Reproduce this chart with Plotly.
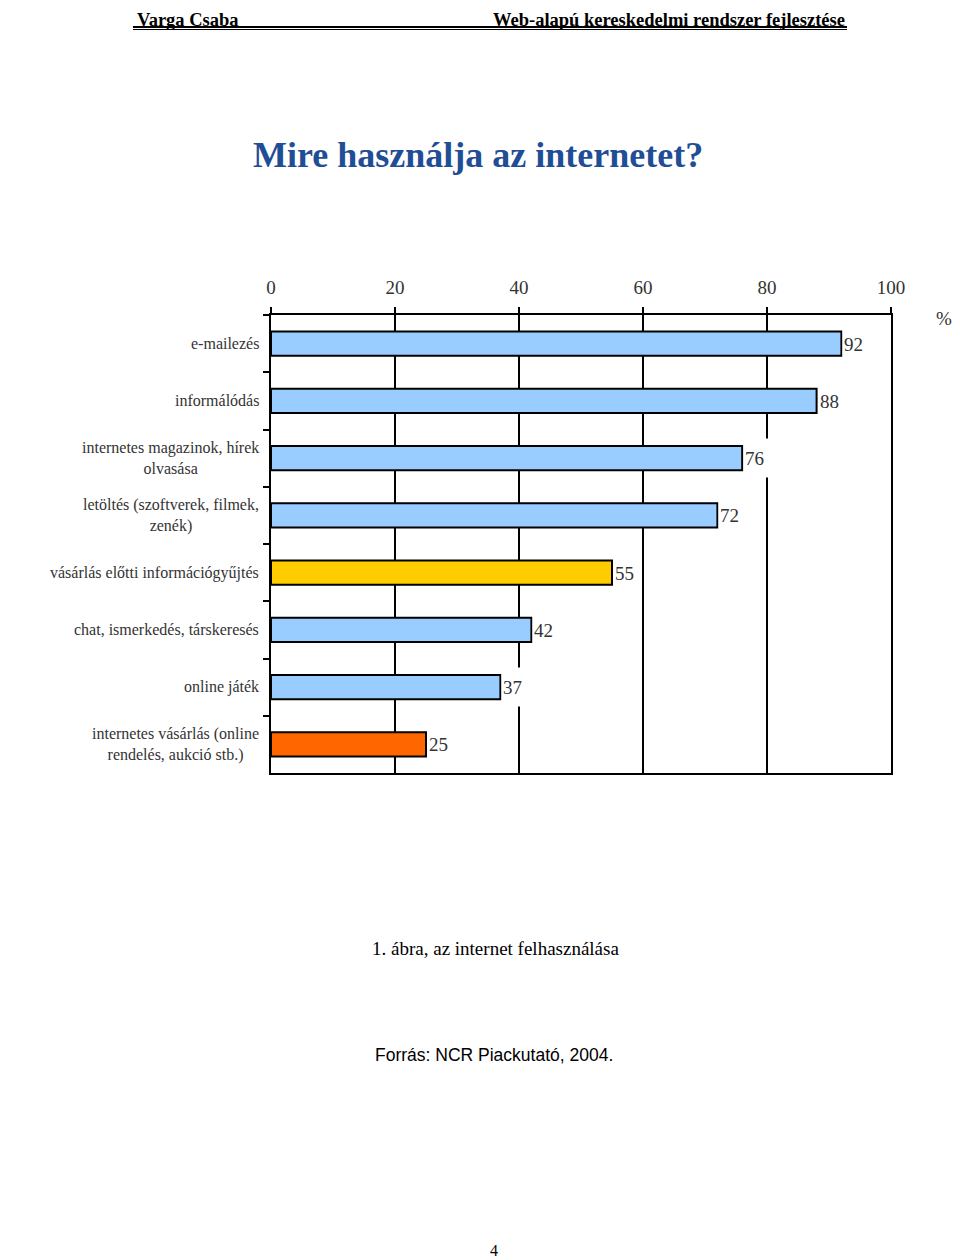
import plotly.graph_objects as go

# data
categories = [
    "e-mailezés",
    "informálódás",
    "internetes magazinok, hírek<br>olvasása",
    "letöltés (szoftverek, filmek,<br>zenék)",
    "vásárlás előtti információgyűjtés",
    "chat, ismerkedés, társkeresés",
    "online játék",
    "internetes vásárlás (online<br>rendelés, aukció stb.)",
]
values = [92, 88, 76, 72, 55, 42, 37, 25]
bar_colors = ["#99CCFF", "#99CCFF", "#99CCFF", "#99CCFF",
              "#FFCC00", "#99CCFF", "#99CCFF", "#FF6600"]
x_ticks = [0, 20, 40, 60, 80, 100]

serif = "Liberation Serif"
W, H = 960, 1260
# page body has an 8px margin, so the margins are taken 8px smaller
L, R, T, B = 263, 77, 307, 495
pw = W - L - R
ph = H - T - B


# screen pixel -> paper coordinate (plot area sits at x 271..891, y 315..773)
def px_x(p):
    return (p - 271) / pw


def px_y(p):
    return (773 - p) / ph


def page_text(x, y, text, size, family=serif, color="black", xanchor="center"):
    fig.add_annotation(x=px_x(x), y=px_y(y), xref="paper", yref="paper",
                       xanchor=xanchor, yanchor="middle", text=text,
                       showarrow=False,
                       font=dict(family=family, size=size, color=color))


fig = go.Figure()
fig.add_trace(go.Bar(
    x=values, y=categories, orientation="h",
    marker=dict(color=bar_colors, line=dict(color="black", width=2)),
    width=0.42, hoverinfo="x+y",
))

# value labels, white box covers the gridlines behind them
for c, v in zip(categories, values):
    fig.add_annotation(x=v, y=c, text=str(v), showarrow=False,
                       xanchor="left", xshift=1, width=22, height=36,
                       align="left", bgcolor="white",
                       font=dict(family=serif, size=19, color="#333"))

# category labels (centered lines, right aligned block)
for c in categories:
    fig.add_annotation(x=0, y=c, text=c, showarrow=False, xref="x", yref="y",
                       xanchor="right", xshift=-10, align="center",
                       font=dict(family=serif, size=16, color="#333"))

page_text(944, 318, "%", 19, color="#333")

# page texts (header kept inside the figure, which starts at screen y 8)
page_text(478, 155, "<b>Mire használja az internetet?</b>", 36, color="#1F4E96")
page_text(135, 20, "<b>Varga Csaba</b>", 18.5, xanchor="left")
page_text(847, 20, "<b>Web-alapú kereskedelmi rendszer fejlesztése</b>", 18.5,
          xanchor="right")
page_text(495, 948, "1. ábra, az internet felhasználása", 19)
page_text(494, 1055, "Forrás: NCR Piackutató, 2004.", 17.5,
          family="Liberation Sans")
page_text(494, 1250, "4", 16)

# double underline of the header
fig.add_shape(type="line", xref="paper", yref="paper",
              x0=px_x(133), x1=px_x(847), y0=px_y(27), y1=px_y(27),
              line=dict(color="black", width=2))
fig.add_shape(type="line", xref="paper", yref="paper",
              x0=px_x(133), x1=px_x(847), y0=px_y(29.5), y1=px_y(29.5),
              line=dict(color="black", width=1))

fig.update_xaxes(
    side="top", range=[0, 100], tickvals=x_ticks,
    showgrid=True, gridcolor="black", gridwidth=2, zeroline=False,
    showline=True, mirror=True, linecolor="black", linewidth=2,
    ticks="outside", ticklen=6, tickwidth=2, tickcolor="black",
    ticklabelstandoff=5,
    tickfont=dict(family=serif, size=19, color="#333"),
)
fig.update_yaxes(
    type="category", range=[7.5, -0.5], tickson="boundaries",
    showticklabels=False, showgrid=False, zeroline=False,
    showline=True, mirror=True, linecolor="black", linewidth=2,
    ticks="outside", ticklen=6, tickwidth=2, tickcolor="black",
)
fig.update_layout(
    width=W, height=H, margin=dict(l=L, r=R, t=T, b=B),
    plot_bgcolor="white", paper_bgcolor="white", showlegend=False,
)
fig.write_html("out.html")
